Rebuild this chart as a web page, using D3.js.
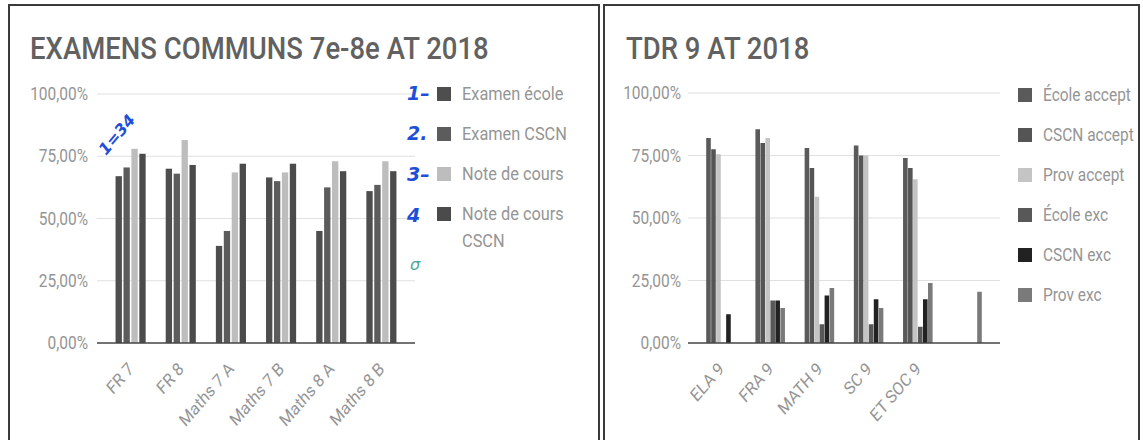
<!DOCTYPE html>
<html>
<head>
<meta charset="utf-8">
<title>Examens communs / TDR 9 AT 2018</title>
<script src="https://cdn.jsdelivr.net/npm/d3@7"></script>
<style>
  body { margin: 0; background: #fff; font-family: Roboto, "Noto Sans", sans-serif; }
  svg { display: block; }
</style>
</head>
<body>
<script>
// left chart data
var leftCategories = ["FR 7", "FR 8", "Maths 7 A", "Maths 7 B", "Maths 8 A", "Maths 8 B"];
var leftSeries = ["Examen école", "Examen CSCN", "Note de cours", "Note de cours CSCN"];
var examenEcole   = [67, 70, 39, 66.5, 45, 61];
var examenCSCN    = [70.5, 68, 45, 65, 62.5, 63.5];
var noteCours     = [78, 81.5, 68.5, 68.5, 73, 73];
var noteCoursCSCN = [76, 71.5, 72, 72, 69, 69];

// right chart data
var rightCategories = ["ELA 9", "FRA 9", "MATH 9", "SC 9", "ET SOC 9", ""];
var rightSeries = ["École accept", "CSCN accept", "Prov accept", "École exc", "CSCN exc", "Prov exc"];
var ecoleAccept = [82, 85.5, 78, 79, 74, 0];
var cscnAccept  = [77.5, 80, 70, 75, 70, 0];
var provAccept  = [75.5, 82, 58.5, 75, 65.5, 0];
var ecoleExc    = [0, 17, 7.5, 7.5, 6.5, 0];
var cscnExc     = [11.5, 17, 19, 17.5, 17.5, 0];
var provExc     = [0, 14, 22, 14, 24, 20.5];

var yTicks = [0, 25, 50, 75, 100];

var width = 1143, height = 440;
var sx = 0.86; // the scan is squeezed horizontally

var svg = d3.select("body").append("svg")
    .attr("width", width)
    .attr("height", height);

var fmt = function(d){ return d3.format(".2f")(d).replace(".", ",") + "%"; };

function squeezedText(g, x, y, str, size, color, anchor, rot){
  return g.append("text")
    .attr("transform", "translate(" + x + "," + y + ") scale(" + sx + ",1)" + (rot ? " rotate(" + rot + ")" : ""))
    .attr("text-anchor", anchor || "start")
    .style("font-size", size + "px")
    .style("fill", color)
    .text(str);
}

function drawPanel(opt){
  var g = svg.append("g");

  g.append("rect")
    .attr("x", opt.box[0]).attr("y", opt.box[1])
    .attr("width", opt.box[2]).attr("height", opt.box[3])
    .style("fill", "none")
    .style("stroke", "#3a3a3a")
    .style("stroke-width", 2);

  squeezedText(g, opt.titleX, 59, opt.title, 32, "#616161")
    .style("font-weight", 500);

  var y = d3.scaleLinear().domain([0, 100]).range([opt.y0, opt.y100]);
  var x0 = d3.scaleBand()
    .domain(opt.categories)
    .range(opt.xRange)
    .paddingInner(0.4)
    .paddingOuter(0.37);
  var x1 = d3.scaleBand()
    .domain(d3.range(opt.series.length))
    .range([0, x0.bandwidth()])
    .paddingInner(opt.innerPad);

  // grid
  g.selectAll(".grid")
    .data(yTicks.filter(function(d){ return d > 0; }))
  .enter().append("line")
    .attr("class", "grid")
    .attr("x1", opt.xRange[0]).attr("x2", opt.xRange[1])
    .attr("y1", y).attr("y2", y)
    .style("stroke", "#e0e0e0")
    .style("stroke-width", 1.2);

  yTicks.forEach(function(t){
    squeezedText(g, opt.labelX, y(t) + 6, fmt(t), 18, "#959595", "end");
  });

  // bars
  var groups = g.selectAll(".group")
    .data(opt.categories)
  .enter().append("g")
    .attr("class", "group")
    .attr("transform", function(d){ return "translate(" + x0(d) + ",0)"; });

  groups.selectAll("rect")
    .data(function(d, i){
      return opt.values.map(function(v, k){ return {k: k, v: v[i]}; });
    })
  .enter().append("rect")
    .attr("x", function(d){ return x1(d.k); })
    .attr("width", x1.bandwidth())
    .attr("y", function(d){ return y(d.v); })
    .attr("height", function(d){ return y(0) - y(d.v); })
    .style("fill", function(d){ return opt.colors[d.k]; });

  g.append("line")
    .attr("x1", opt.xRange[0]).attr("x2", opt.xRange[1])
    .attr("y1", y(0)).attr("y2", y(0))
    .style("stroke", "#444")
    .style("stroke-width", 1.6);

  opt.categories.forEach(function(c){
    if(!c) return;
    squeezedText(g, x0(c) + x0.bandwidth()/2 + 4, y(0) + 27, c, 18, "#959595", "end", -45);
  });

  // legend
  var ly = opt.legendY;
  opt.series.forEach(function(s, i){
    g.append("rect")
      .attr("x", opt.legendX)
      .attr("y", ly - 7)
      .attr("width", 14).attr("height", 14)
      .style("fill", opt.colors[i]);
    var lines = opt.wrap[i] || [s];
    lines.forEach(function(l, j){
      squeezedText(g, opt.legendX + 25, ly + 6 + j*27, l, opt.legendSize, "#959595");
    });
    ly += opt.legendStep;
  });

  return g;
}

drawPanel({
  box: [9, 5, 590, 450],
  title: "EXAMENS COMMUNS 7e-8e AT 2018",
  titleX: 30,
  categories: leftCategories,
  series: leftSeries,
  values: [examenEcole, examenCSCN, noteCours, noteCoursCSCN],
  colors: ["#4e4e4e", "#5c5c5c", "#bdbdbd", "#4b4b4b"],
  xRange: [97, 415],
  y0: 343, y100: 94,
  labelX: 88,
  innerPad: 0.2,
  legendX: 437, legendY: 94, legendStep: 40, legendSize: 19,
  wrap: {3: ["Note de cours", "CSCN"]}
});

drawPanel({
  box: [604, 5, 535, 450],
  title: "TDR 9 AT 2018",
  titleX: 626,
  categories: rightCategories,
  series: rightSeries,
  values: [ecoleAccept, cscnAccept, provAccept, ecoleExc, cscnExc, provExc],
  colors: ["#5a5a5a", "#555555", "#c4c4c4", "#585858", "#222222", "#7a7a7a"],
  xRange: [688, 1000],
  y0: 343, y100: 93,
  labelX: 681,
  innerPad: 0.08,
  legendX: 1018, legendY: 95, legendStep: 40, legendSize: 18,
  wrap: {}
});

// handwritten pen marks on the scan
var pen = svg.append("g")
  .style("font-family", "'DejaVu Sans', sans-serif")
  .style("font-style", "italic")
  .style("fill", "#1f4fd8");
pen.append("text").attr("transform", "translate(106,156) rotate(-50)")
  .style("font-size", "16px").style("font-weight", "bold").text("1=34");
[["1–", 100], ["2.", 140], ["3–", 181], ["4", 222]].forEach(function(d){
  pen.append("text").attr("x", 407).attr("y", d[1])
    .style("font-size", "19px").style("font-weight", "bold").text(d[0]);
});
pen.append("text").attr("x", 410).attr("y", 270)
  .style("font-size", "16px").style("fill", "#4fa8a0").text("σ");
</script>
</body>
</html>
